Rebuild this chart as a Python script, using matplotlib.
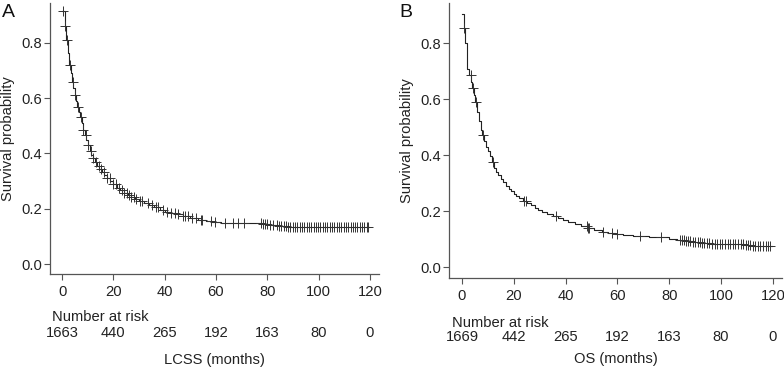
import numpy as np
import matplotlib
matplotlib.use('Agg')
import matplotlib.pyplot as plt

plt.rcParams['font.family'] = ['Liberation Sans', 'DejaVu Sans']

# Panel A: LCSS step curve knots (months, survival)
lcss_t = [0, 1.0, 1.6, 2.3, 2.8, 3.3, 3.8, 4.3, 5.0, 5.5, 6.0, 6.5, 7.0, 7.6, 8.2, 8.8,
          9.4, 10.0, 10.7, 11.3, 12.0, 12.8, 13.6, 14.5, 15.5, 16.5, 17.5, 18.7, 20.0,
          21.3, 22.5, 24.0, 25.5, 27.0, 28.5, 30.0, 32.0, 34.0, 36.0, 38.0, 40.0, 42.0,
          44.5, 47.0, 50.0, 53.0, 56.0, 58.5, 62.0, 72.0, 78.0, 81.0, 84.0, 88.0, 91.0, 119.5]
lcss_s = [0.915, 0.862, 0.81, 0.765, 0.72, 0.69, 0.66, 0.638, 0.61, 0.59, 0.567, 0.55,
          0.53, 0.51, 0.485, 0.465, 0.448, 0.43, 0.41, 0.395, 0.383, 0.368, 0.355, 0.343,
          0.333, 0.322, 0.312, 0.302, 0.29, 0.276, 0.268, 0.258, 0.25, 0.243, 0.236, 0.228,
          0.222, 0.214, 0.205, 0.196, 0.19, 0.185, 0.18, 0.174, 0.167, 0.161, 0.155, 0.151,
          0.149, 0.147, 0.144, 0.14, 0.137, 0.135, 0.133, 0.133]
lcss_cens = [0.2, 1.0, 2.0, 3.2, 4.2, 5.2, 6.3, 7.2, 8.2, 9.2, 10.1, 11.1, 12.1, 13.2, 14.4,
             15.3, 16.2, 17.5, 18.5, 20.0, 21.2, 22.3, 23.3, 24.2, 25.3, 26.2, 27.0, 28.0,
             29.0, 30.2, 31.0, 33.5, 35.0, 36.5, 37.5, 39.5, 41.0, 42.5, 44.0, 45.0, 47.0,
             48.0, 49.0, 50.5, 52.0, 54.0, 54.7, 58.0, 59.6, 63.5, 66.6, 68.6, 70.9, 77.6,
             78.3, 79.0, 79.8, 81.0, 82.2, 83.6, 84.5, 85.4, 86.3, 87.2, 88.1, 89.0, 89.9,
             90.8, 91.7, 92.6, 93.5, 94.4, 95.3, 96.2, 97.1, 98.0, 98.9, 99.8, 100.7, 101.6,
             102.5, 103.4, 104.3, 105.2, 106.1, 107.0, 107.9, 108.8, 109.7, 110.6, 111.5,
             112.4, 113.3, 114.2, 115.1, 116.0, 116.9, 117.8, 118.7, 119.3]
lcss_risk = ['1663', '440', '265', '192', '163', '80', '0']

# Panel B: OS
os_t = [0, 0.6, 1.1, 2.1, 2.8, 3.5, 4.0, 4.6, 5.2, 5.8, 6.5, 7.2, 7.8, 8.5, 9.2, 10.0, 10.8,
        11.5, 12.3, 13.2, 14.0, 15.0, 16.0, 17.0, 18.0, 19.0, 20.0, 21.0, 22.0, 23.5, 25.0,
        26.5, 28.0, 29.5, 31.0, 33.0, 35.0, 37.0, 39.0, 41.0, 43.5, 46.0, 48.5, 51.0, 54.0,
        56.5, 59.0, 62.0, 66.0, 72.0, 77.5, 80.0, 83.0, 86.0, 89.0, 92.0, 96.0, 103.0,
        109.0, 112.0, 119.5]
os_s = [0.905, 0.855, 0.80, 0.706, 0.685, 0.66, 0.64, 0.615, 0.59, 0.555, 0.52, 0.49, 0.47,
        0.45, 0.43, 0.415, 0.395, 0.375, 0.355, 0.34, 0.328, 0.315, 0.303, 0.29, 0.28, 0.27,
        0.262, 0.252, 0.245, 0.237, 0.228, 0.22, 0.212, 0.205, 0.198, 0.19, 0.181, 0.174,
        0.167, 0.16, 0.155, 0.148, 0.141, 0.132, 0.125, 0.12, 0.117, 0.114, 0.111, 0.109,
        0.106, 0.101, 0.096, 0.093, 0.089, 0.086, 0.084, 0.082, 0.079, 0.076, 0.076]
os_cens = [0.8, 3.3, 4.3, 5.3, 8.1, 12.0, 24.0, 24.8, 36.3, 48.2, 48.7, 49.2, 54.5, 57.8,
           60.0, 68.7, 77.0, 84.2, 85.0, 85.7, 86.5, 87.2, 88.0, 89.0, 90.0, 91.0, 91.8,
           92.5, 93.5, 94.5, 95.5, 96.5, 97.5, 98.5, 99.5, 100.5, 101.5, 102.5, 103.5,
           104.5, 105.5, 106.5, 107.5, 108.5, 109.5, 110.3, 111.2, 112.2, 113.2, 114.2,
           115.2, 116.2, 117.2, 118.2, 119.0]
os_risk = ['1669', '442', '265', '192', '163', '80', '0']

risk_times = [0, 20, 40, 60, 80, 100, 120]
yticks = [0.0, 0.2, 0.4, 0.6, 0.8]

fig = plt.figure(figsize=(7.84, 3.68), dpi=100)
axA = fig.add_axes([0.0638, 0.2554, 0.4196, 0.7364])
axB = fig.add_axes([0.5727, 0.2446, 0.4247, 0.7473])

panels = [
    (axA, lcss_t, lcss_s, lcss_cens, lcss_risk, 'LCSS (months)',
     (-4.7, 123.5), (-0.036, 0.944), (-0.159, -0.218, -0.317)),
    (axB, os_t, os_s, os_cens, os_risk, 'OS (months)',
     (-5.0, 123.5), (-0.039, 0.943), (-0.164, -0.215, -0.295)),
]

fs = 10.6
for ax, t, s, cens, risk, xlab, xl, yl, ypos in panels:
    t = np.array(t)
    s = np.array(s)
    ax.step(t, s, where='post', color='#222222', lw=0.8)
    # censor marks sit on the curve
    idx = np.searchsorted(t, cens, side='right') - 1
    ax.plot(cens, s[idx], ls='none', marker='+', ms=7, mew=0.7, color='#333333')

    ax.set_xlim(*xl)
    ax.set_ylim(*yl)
    ax.set_xticks(risk_times)
    ax.set_yticks(yticks)
    ax.set_yticklabels(['0.0', '0.2', '0.4', '0.6', '0.8'])
    for side in ['top', 'right']:
        ax.spines[side].set_visible(False)
    for side in ['left', 'bottom']:
        ax.spines[side].set_color('#555555')
        ax.spines[side].set_linewidth(0.9)
    ax.tick_params(axis='both', direction='out', length=4.5, width=0.8,
                   color='#555555', labelsize=fs, labelcolor='#222222')
    ax.tick_params(axis='y', pad=1)
    ax.tick_params(axis='x', pad=3.5)
    ax.set_ylabel('Survival probability', fontsize=fs, color='#222222', labelpad=5)

    ax.text(-4.0, ypos[0], 'Number at risk', transform=ax.get_xaxis_transform(),
            ha='left', va='center', fontsize=fs, color='#222222')
    for rt, n in zip(risk_times, risk):
        ax.text(rt, ypos[1], n, transform=ax.get_xaxis_transform(),
                ha='center', va='center', fontsize=fs, color='#222222')
    ax.text(0.5, ypos[2], xlab, transform=ax.transAxes, ha='center', va='center',
            fontsize=fs, color='#222222')

fig.text(0.002, 0.966, 'A', fontsize=14, ha='left', va='center', color='#111111')
fig.text(0.509, 0.966, 'B', fontsize=14, ha='left', va='center', color='#111111')

fig.savefig('out.png', dpi=100)
